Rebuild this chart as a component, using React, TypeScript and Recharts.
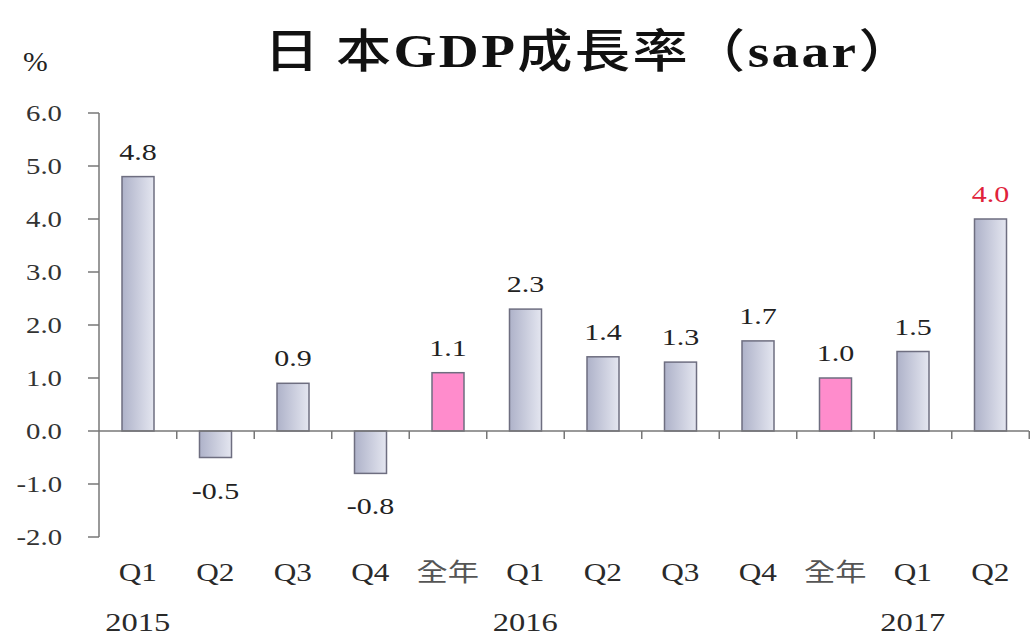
import React from 'react';
import { BarChart, Bar, XAxis, YAxis, ReferenceLine, LabelList } from 'recharts';

const categories = ['Q1', 'Q2', 'Q3', 'Q4', '全年', 'Q1', 'Q2', 'Q3', 'Q4', '全年', 'Q1', 'Q2'];
const growth = [4.8, -0.5, 0.9, -0.8, 1.1, 2.3, 1.4, 1.3, 1.7, 1.0, 1.5, 4.0];
const years = ['2015', '', '', '', '', '2016', '', '', '', '', '2017', ''];
const yTicks = [-2, -1, 0, 1, 2, 3, 4, 5, 6];

const W = 1034;
const H = 639;
const M = { top: 113, right: 5, bottom: 0, left: 0 };
const Y_W = 99;
const BAND = (W - M.left - M.right - Y_W) / categories.length;

const SERIF = '"Liberation Serif", "Noto Sans CJK TC", serif';
// the source picture is stretched sideways, so text is widened to match
const SX = 1.25;

const data = categories.map((c, i) => ({ cat: c, year: years[i], value: growth[i] }));

const SText = ({ x, y, size, fill, anchor = 'middle', children }: any) => (
  <text
    transform={`translate(${x},${y}) scale(${SX},1)`}
    textAnchor={anchor}
    fontSize={size}
    fill={fill}
    fontFamily={SERIF}
  >
    {children}
  </text>
);

const BarShape = (props: any) => {
  const { x, y, width, height, index, value } = props;
  const top = Math.min(y, y + height);
  const h = Math.abs(height);
  const base = value >= 0 ? top + h : top;
  const fill = categories[index] === '全年' ? '#ff8ccc' : 'url(#barGrad)';
  const tx = x + width / 2 + BAND / 2;
  return (
    <g>
      <rect x={x} y={top} width={width} height={h} fill={fill} stroke="#6e6e80" strokeWidth={1.5} />
      <line x1={tx} x2={tx} y1={base} y2={base + 8} stroke="#777" strokeWidth={1.5} />
    </g>
  );
};

const ValueLabel = (props: any) => {
  const { x, y, width, height, value, index } = props;
  const top = Math.min(y, y + height);
  const bottom = Math.max(y, y + height);
  const ty = value >= 0 ? top - 17 : bottom + 41;
  const color = index === growth.length - 1 ? '#e0223a' : '#222';
  return (
    <SText x={x + width / 2} y={ty} size={24} fill={color}>
      {value.toFixed(1)}
    </SText>
  );
};

const CatTick = (props: any) => {
  const { x, y, payload, index } = props;
  const yr = years[index];
  const cjk = payload.value === '全年';
  return (
    <g>
      <SText x={x} y={y + 36} size={25} fill={cjk ? '#555' : '#2a2a2a'}>
        {payload.value}
      </SText>
      {yr && (
        <SText x={x} y={y + 86} size={26} fill="#2a2a2a">
          {yr}
        </SText>
      )}
    </g>
  );
};

const ValTick = (props: any) => {
  const { x, y, payload } = props;
  return (
    <SText x={x} y={y + 8} size={23} fill="#333" anchor="end">
      {payload.value.toFixed(1)}
    </SText>
  );
};

export default function App() {
  return (
    <div style={{ position: 'absolute', left: 0, top: 0, width: W, height: H, background: '#fff' }}>
      <div
        style={{
          position: 'absolute',
          left: 590 - 400,
          width: 800,
          top: 14,
          textAlign: 'center',
          fontFamily: SERIF,
          fontSize: 46,
          letterSpacing: 2,
          color: '#111',
          transform: 'scaleX(1.2)',
          whiteSpace: 'nowrap',
        }}
      >
        <span style={{ fontWeight: 500 }}>日</span>
        <span style={{ fontWeight: 500, marginLeft: 12 }}>本</span>
        <span style={{ fontWeight: 'bold' }}>GDP</span>
        <span style={{ fontWeight: 500 }}>成長率（</span>
        <span style={{ fontWeight: 'bold' }}>saar</span>
        <span style={{ fontWeight: 500 }}>）</span>
      </div>
      <div
        style={{
          position: 'absolute',
          left: 23,
          top: 47,
          fontFamily: SERIF,
          fontSize: 27,
          color: '#222',
          transform: 'scaleX(1.1)',
          transformOrigin: 'left',
        }}
      >
        %
      </div>
      <BarChart width={W} height={H} data={data} margin={M} barSize={32}>
        <defs>
          <linearGradient id="barGrad" x1="0" y1="0" x2="1" y2="0">
            <stop offset="0%" stopColor="#aeb2c9" />
            <stop offset="100%" stopColor="#e4e6f0" />
          </linearGradient>
        </defs>
        <XAxis
          dataKey="cat"
          axisLine={false}
          tickLine={false}
          height={102}
          interval={0}
          tick={<CatTick />}
        />
        <YAxis
          width={Y_W}
          domain={[-2, 6]}
          ticks={yTicks}
          interval={0}
          tick={<ValTick />}
          tickSize={11}
          tickMargin={26}
          axisLine={{ stroke: '#777', strokeWidth: 1.5 }}
          tickLine={{ stroke: '#777', strokeWidth: 1.5 }}
        />
        <ReferenceLine y={0} stroke="#777" strokeWidth={1.5} />
        <Bar dataKey="value" shape={<BarShape />} isAnimationActive={false}>
          <LabelList dataKey="value" content={<ValueLabel />} />
        </Bar>
      </BarChart>
    </div>
  );
}
